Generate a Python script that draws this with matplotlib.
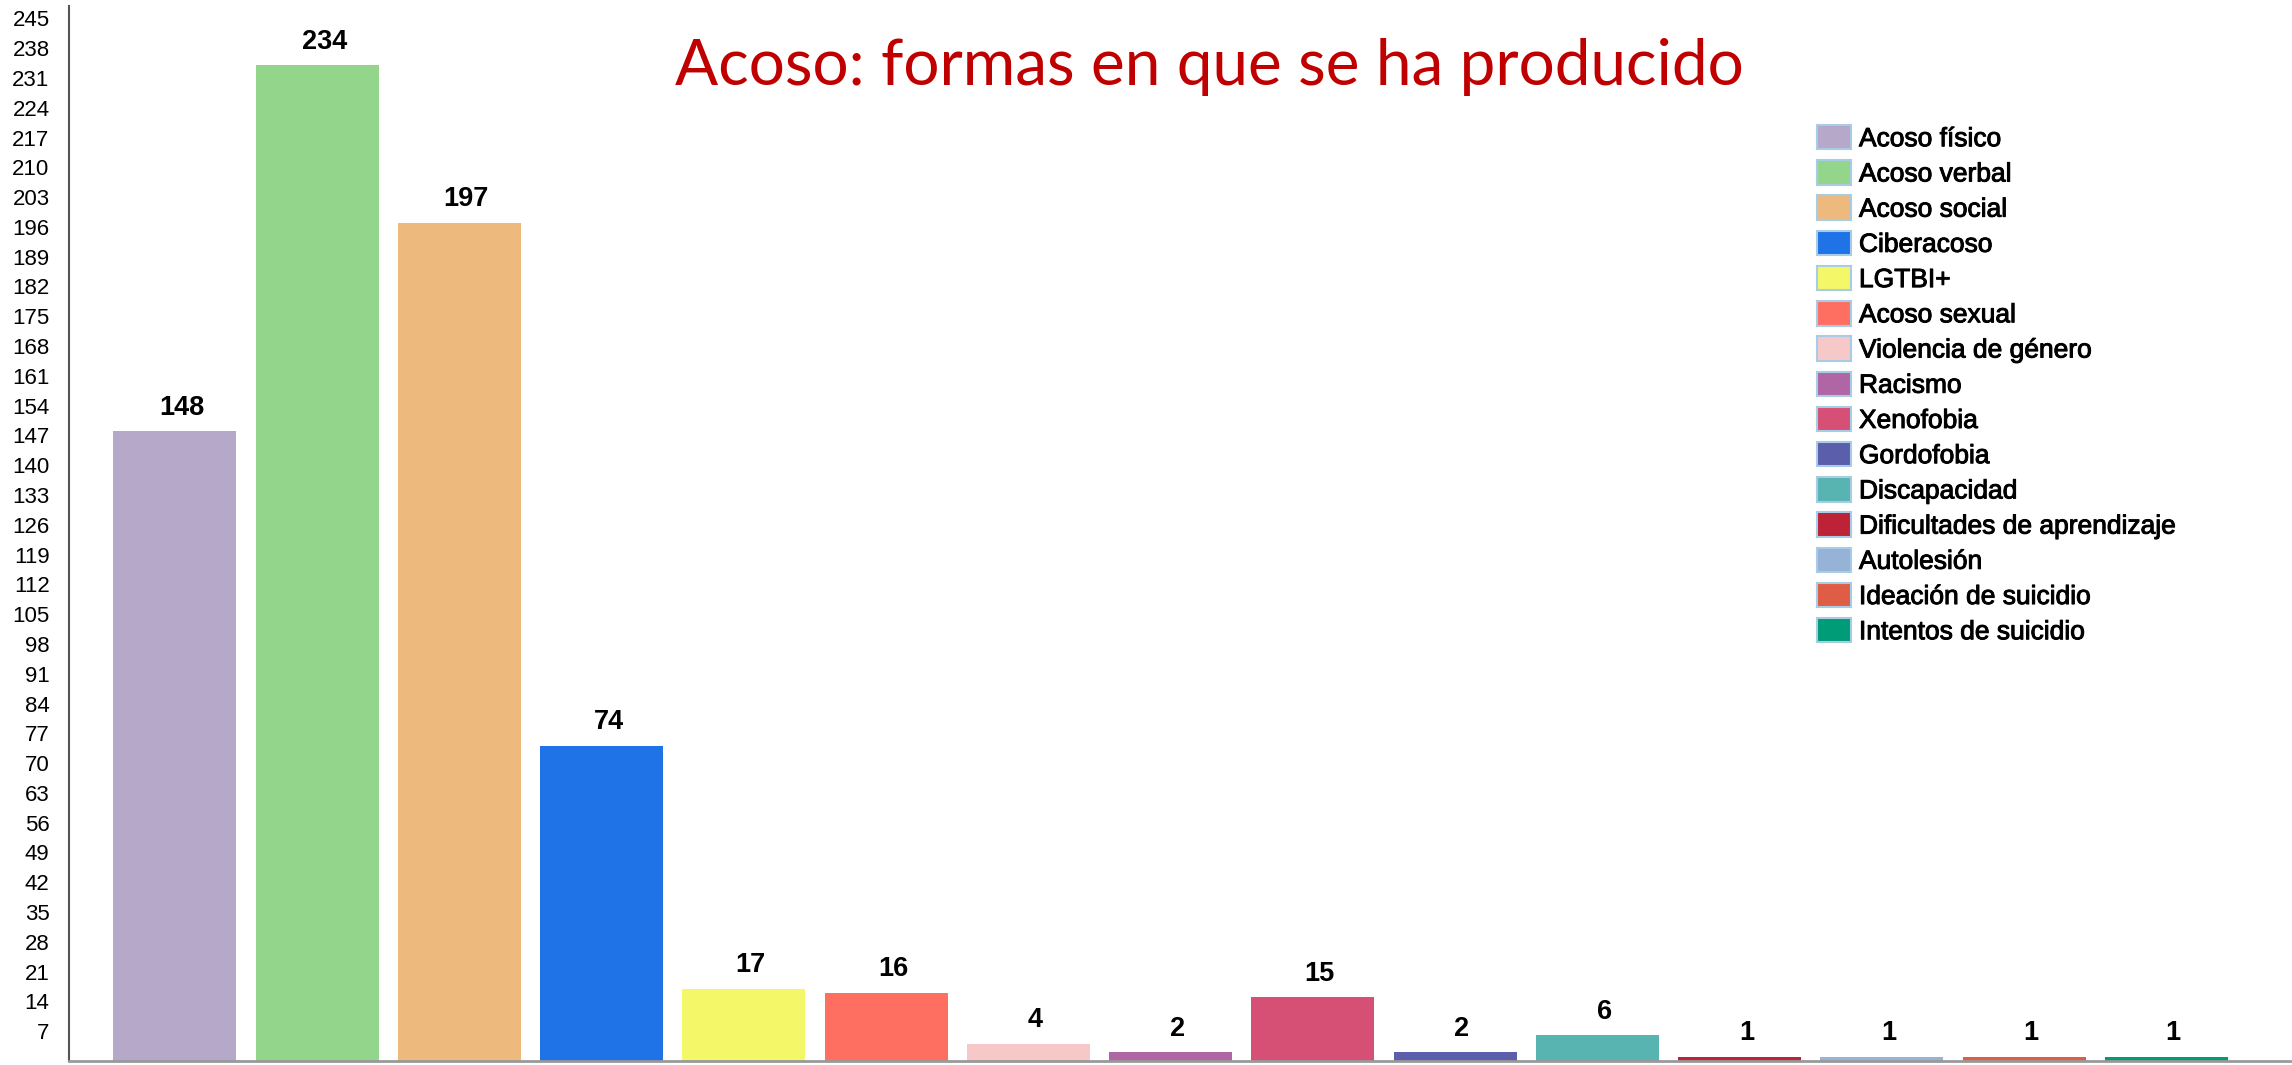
import matplotlib
matplotlib.use("Agg")
import matplotlib.pyplot as plt
import matplotlib.patheffects as pe
from matplotlib.patches import Patch

plt.rcParams["font.family"] = ["Liberation Sans", "DejaVu Sans"]

categories = ["Acoso físico", "Acoso verbal", "Acoso social", "Ciberacoso", "LGTBI+",
              "Acoso sexual", "Violencia de género", "Racismo", "Xenofobia", "Gordofobia",
              "Discapacidad", "Dificultades de aprendizaje", "Autolesión",
              "Ideación de suicidio", "Intentos de suicidio"]
values = [148, 234, 197, 74, 17, 16, 4, 2, 15, 2, 6, 1, 1, 1, 1]
colors = ["#b5a8c8", "#93d68b", "#eeb97c", "#2073e6", "#f4f767", "#ff6f61", "#f7c8c8",
          "#b065a5", "#d65075", "#5a5eab", "#58b4b0", "#bd2236", "#96b2d6", "#e05d45",
          "#009b77"]
yticks = list(range(7, 246, 7))
title = "Acoso: formas en que se ha producido"

fig = plt.figure(figsize=(22.92, 10.65), dpi=100)
ax = fig.add_axes([69 / 2292, 4 / 1065, 2221 / 2292, 1055 / 1065])
x = list(range(len(values)))
ax.bar(x, values, width=0.865, color=colors, linewidth=0)
ax.set_xlim(-0.745, 14.87)
ax.set_ylim(0, 247.9)

ax.set_xticks([])
ax.set_yticks(yticks)
ax.tick_params(axis="y", length=0, pad=14, labelsize=16)
for s in ["top", "right"]:
    ax.spines[s].set_visible(False)
ax.spines["left"].set_color("#555555")
ax.spines["left"].set_linewidth(1.5)
ax.spines["bottom"].set_color("#999999")
ax.spines["bottom"].set_linewidth(2)

for i, v in zip(x, values):
    ax.annotate(str(v), (i, v), xytext=(5, 17), textcoords="offset points",
                ha="center", va="center", fontweight="bold", fontsize=19.5)

fig.text(1209 / 2292, 1 - 67 / 1065, title, ha="center", va="center",
         color="#c00000", fontsize=46, family=["Lato", "DejaVu Sans"])

handles = [Patch(facecolor=c, edgecolor="#a8cbe6", linewidth=1.5) for c in colors]
leg = ax.legend(handles, categories, loc="upper left",
                bbox_to_anchor=(1817 / 2292, 1 - 125 / 1065), bbox_transform=fig.transFigure,
                frameon=False, fontsize=19, handlelength=1.29, handleheight=1.05,
                handletextpad=0.3, labelspacing=0.34, borderpad=0, borderaxespad=0)
for t in leg.get_texts():
    t.set_path_effects([pe.withStroke(linewidth=0.7, foreground="black")])

fig.savefig("out.png", dpi=100)
